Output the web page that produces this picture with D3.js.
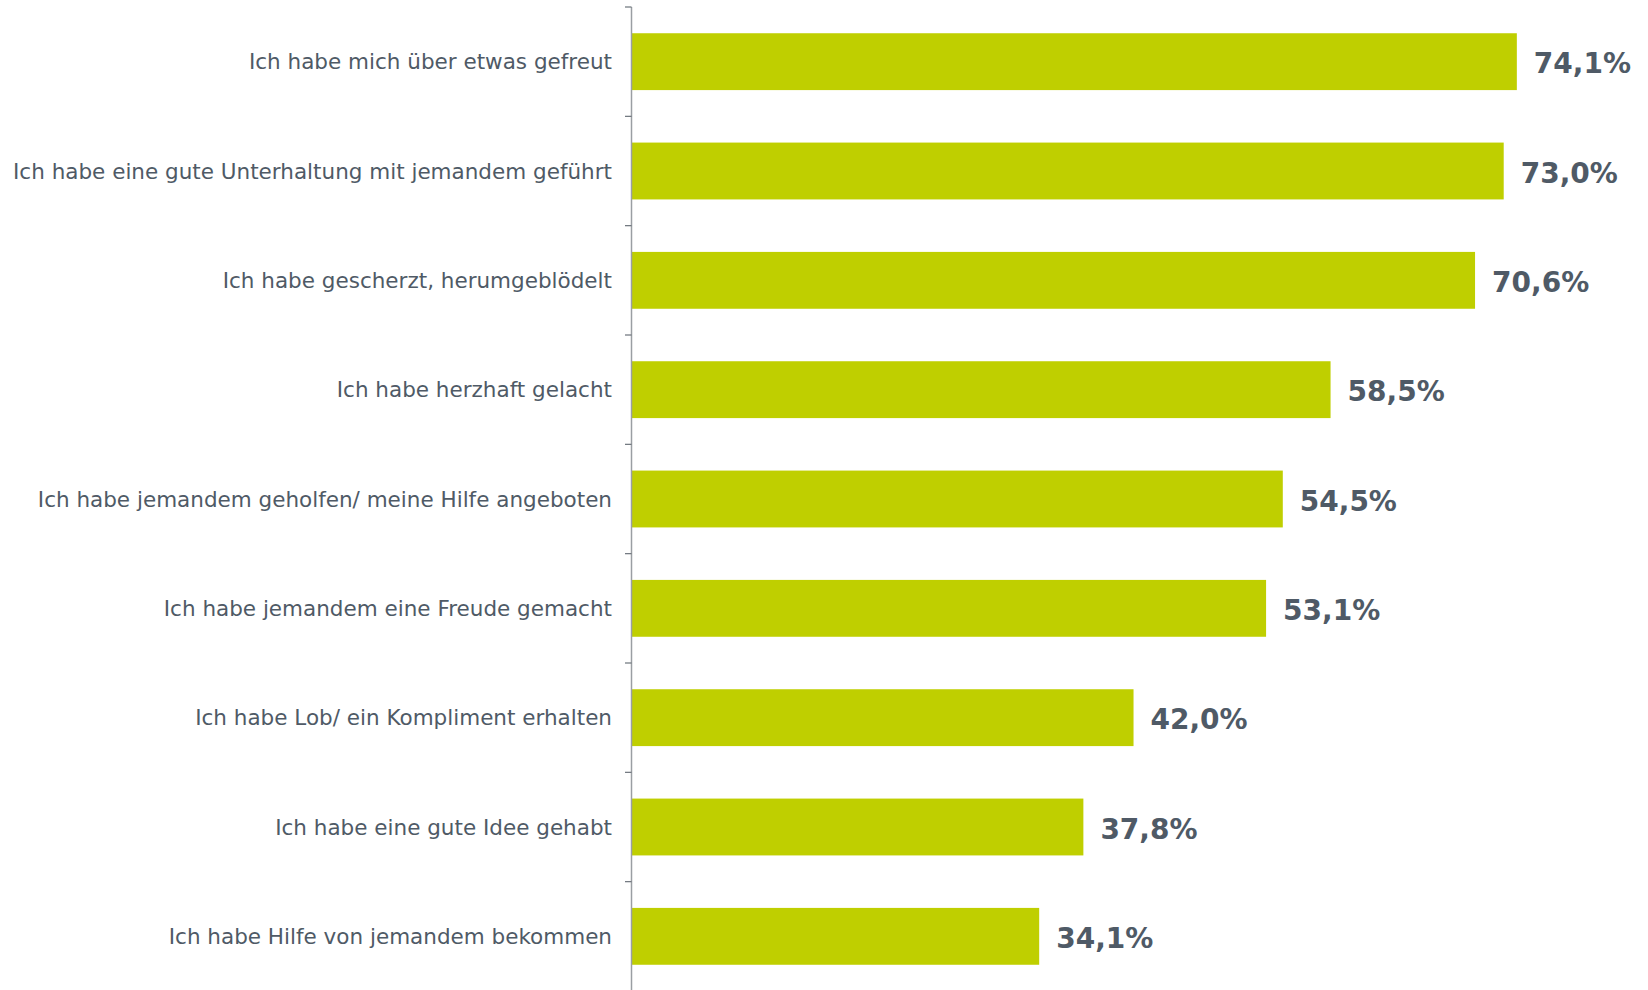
<!DOCTYPE html>
<html><head><meta charset="utf-8">
<script src="https://cdn.jsdelivr.net/npm/d3@7"></script>
<style>html,body{margin:0;padding:0;background:#fff;}svg{display:block;}</style>
</head><body>
<svg id="chart" width="1648" height="990"></svg>
<script>
const categories = [
  "Ich habe mich über etwas gefreut",
  "Ich habe eine gute Unterhaltung mit jemandem geführt",
  "Ich habe gescherzt, herumgeblödelt",
  "Ich habe herzhaft gelacht",
  "Ich habe jemandem geholfen/ meine Hilfe angeboten",
  "Ich habe jemandem eine Freude gemacht",
  "Ich habe Lob/ ein Kompliment erhalten",
  "Ich habe eine gute Idee gehabt",
  "Ich habe Hilfe von jemandem bekommen"
];
const values = [74.1, 73.0, 70.6, 58.5, 54.5, 53.1, 42.0, 37.8, 34.1];
const valueLabels = ["74,1%", "73,0%", "70,6%", "58,5%", "54,5%", "53,1%", "42,0%", "37,8%", "34,1%"];

const svg = d3.select("#chart");
const x0 = 632;
const x = d3.scaleLinear().domain([0, 85]).range([x0, 1647]);
const y = d3.scaleBand().domain(categories).range([7, 991]).paddingInner(0.48).paddingOuter(0.24);
const textColor = "#4f5a66";

svg.selectAll("rect.bar").data(values).enter().append("rect")
  .attr("class", "bar")
  .attr("x", x(0))
  .attr("y", (d, i) => y(categories[i]))
  .attr("width", d => x(d) - x(0))
  .attr("height", y.bandwidth())
  .attr("fill", "#bfcf00");

const step = y.step();
const boundaries = d3.range(categories.length).map(i => y.range()[0] + i * step);
const axisG = svg.append("g");
axisG.append("line")
  .attr("x1", x0 - 0.5).attr("x2", x0 - 0.5)
  .attr("y1", y.range()[0]).attr("y2", 990)
  .attr("stroke", "#9a9ea3").attr("stroke-width", 1.5);
axisG.selectAll("line.tick").data(boundaries).enter().append("line")
  .attr("class", "tick")
  .attr("x1", x0 - 7).attr("x2", x0 - 0.5)
  .attr("y1", d => d).attr("y2", d => d)
  .attr("stroke", "#6b727a").attr("stroke-width", 1.2);

svg.selectAll("text.cat").data(categories).enter().append("text")
  .attr("class", "cat")
  .attr("x", 612)
  .attr("y", d => y(d) + y.bandwidth() / 2)
  .attr("dy", "0.35em")
  .attr("text-anchor", "end")
  .attr("font-family", "'DejaVu Sans', Verdana, sans-serif")
  .attr("font-size", 21.5)
  .attr("fill", textColor)
  .text(d => d);

svg.selectAll("text.val").data(values).enter().append("text")
  .attr("class", "val")
  .attr("x", d => x(d) + 17)
  .attr("y", (d, i) => y(categories[i]) + y.bandwidth() / 2 + 2)
  .attr("dy", "0.35em")
  .attr("font-family", "'DejaVu Sans', Verdana, sans-serif")
  .attr("font-weight", "bold")
  .attr("font-size", 28)
  .attr("fill", textColor)
  .text((d, i) => valueLabels[i]);
</script>
</body></html>
